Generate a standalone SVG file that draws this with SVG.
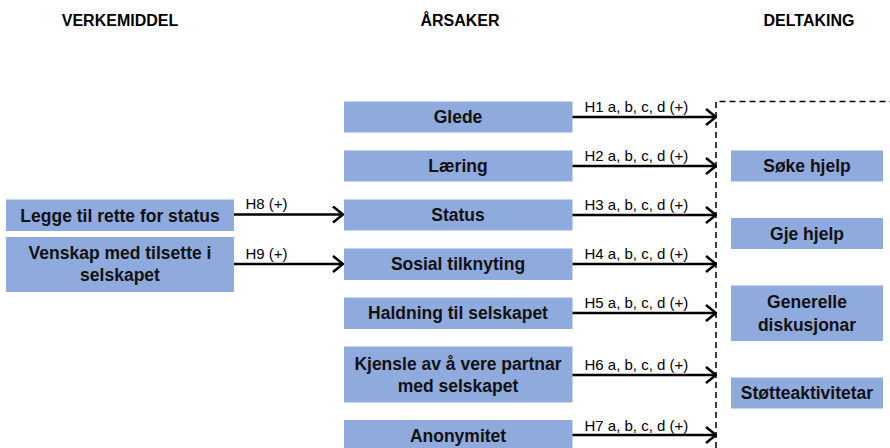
<svg xmlns="http://www.w3.org/2000/svg" width="890" height="448" viewBox="0 0 890 448">
<style>
  .box { fill: #8FAADC; }
  .t { font-family: "Liberation Sans", Arial, sans-serif; font-weight: bold; font-size: 17.5px; fill: #111; text-anchor: middle; }
  .h { font-family: "Liberation Sans", Arial, sans-serif; font-weight: bold; font-size: 16px; fill: #000; text-anchor: middle; }
  .lbl { font-family: "Liberation Sans", Arial, sans-serif; font-size: 15px; fill: #000; }
  .arr { stroke: #000; stroke-width: 2.5; fill: none; marker-end: url(#ah); }
  .dash { stroke: #000; stroke-width: 1.5; fill: none; stroke-dasharray: 6 4; }
</style>
<defs>
  <marker id="ah" viewBox="0 0 12 18" refX="11" refY="9" markerWidth="12" markerHeight="18" markerUnits="userSpaceOnUse" orient="auto">
    <path d="M1,1 L11,9 L1,17" fill="none" stroke="#000" stroke-width="2.5"/>
  </marker>
</defs>
<rect width="890" height="448" fill="#fff"/>

<g id="headers">
  <text class="h" x="120" y="26">VERKEMIDDEL</text>
  <text class="h" x="460" y="26">ÅRSAKER</text>
  <text class="h" x="809" y="26">DELTAKING</text>
</g>

<g id="n-legge"><rect class="box" x="6" y="199.5" width="228" height="31.5"/><text class="t" x="120" y="221.5">Legge til rette for status</text></g>
<g id="n-venskap"><rect class="box" x="6" y="237" width="228" height="55"/><text class="t" x="120" y="258.5">Venskap med tilsette i</text><text class="t" x="120" y="280.5">selskapet</text></g>

<g id="n-glede"><rect class="box" x="344" y="101.5" width="228.5" height="31"/><text class="t" x="458" y="123">Glede</text></g>
<g id="n-laering"><rect class="box" x="344" y="150.5" width="228.5" height="31"/><text class="t" x="458" y="172">Læring</text></g>
<g id="n-status"><rect class="box" x="344" y="199.5" width="228.5" height="31"/><text class="t" x="458" y="221">Status</text></g>
<g id="n-sosial"><rect class="box" x="344" y="248.5" width="228.5" height="31.5"/><text class="t" x="458" y="270">Sosial tilknyting</text></g>
<g id="n-haldning"><rect class="box" x="344" y="297.5" width="228.5" height="31.5"/><text class="t" x="458" y="319">Haldning til selskapet</text></g>
<g id="n-kjensle"><rect class="box" x="344" y="346.5" width="228.5" height="56"/><text class="t" x="458" y="369.5">Kjensle av å vere partnar</text><text class="t" x="458" y="391.5">med selskapet</text></g>
<g id="n-anonymitet"><rect class="box" x="344" y="420" width="228.5" height="32"/><text class="t" x="458" y="442">Anonymitet</text></g>

<g id="n-soke"><rect class="box" x="731" y="150.5" width="152" height="31"/><text class="t" x="807" y="172">Søke hjelp</text></g>
<g id="n-gje"><rect class="box" x="731" y="218" width="152" height="31"/><text class="t" x="807" y="240">Gje hjelp</text></g>
<g id="n-generelle"><rect class="box" x="731" y="285.5" width="152" height="55.5"/><text class="t" x="807" y="307.5">Generelle</text><text class="t" x="807" y="330.5">diskusjonar</text></g>
<g id="n-stotte"><rect class="box" x="731" y="377.5" width="152" height="31"/><text class="t" x="807" y="399">Støtteaktivitetar</text></g>

<g id="deltaking-frame">
  <path class="dash" d="M716,448 L716,101.5 L890,101.5"/>
</g>

<g id="connectors">
  <line class="arr" x1="234" y1="214.5" x2="343" y2="214.5"/>
  <line class="arr" x1="234" y1="264" x2="343" y2="264"/>
  <line class="arr" x1="572.5" y1="117" x2="716" y2="117"/>
  <line class="arr" x1="572.5" y1="166" x2="716" y2="166"/>
  <line class="arr" x1="572.5" y1="215" x2="716" y2="215"/>
  <line class="arr" x1="572.5" y1="264" x2="716" y2="264"/>
  <line class="arr" x1="572.5" y1="313" x2="716" y2="313"/>
  <line class="arr" x1="572.5" y1="375" x2="716" y2="375"/>
  <line class="arr" x1="572.5" y1="435" x2="716" y2="435"/>
  <g id="labels">
    <text class="lbl" x="245.5" y="209">H8 (+)</text>
    <text class="lbl" x="245.5" y="258.5">H9 (+)</text>
    <text class="lbl" x="584.5" y="111.5">H1 a, b, c, d (+)</text>
    <text class="lbl" x="584.5" y="160.5">H2 a, b, c, d (+)</text>
    <text class="lbl" x="584.5" y="209.5">H3 a, b, c, d (+)</text>
    <text class="lbl" x="584.5" y="258.5">H4 a, b, c, d (+)</text>
    <text class="lbl" x="584.5" y="307.5">H5 a, b, c, d (+)</text>
    <text class="lbl" x="584.5" y="369.5">H6 a, b, c, d (+)</text>
    <text class="lbl" x="584.5" y="431">H7 a, b, c, d (+)</text>
  </g>
</g>
</svg>
